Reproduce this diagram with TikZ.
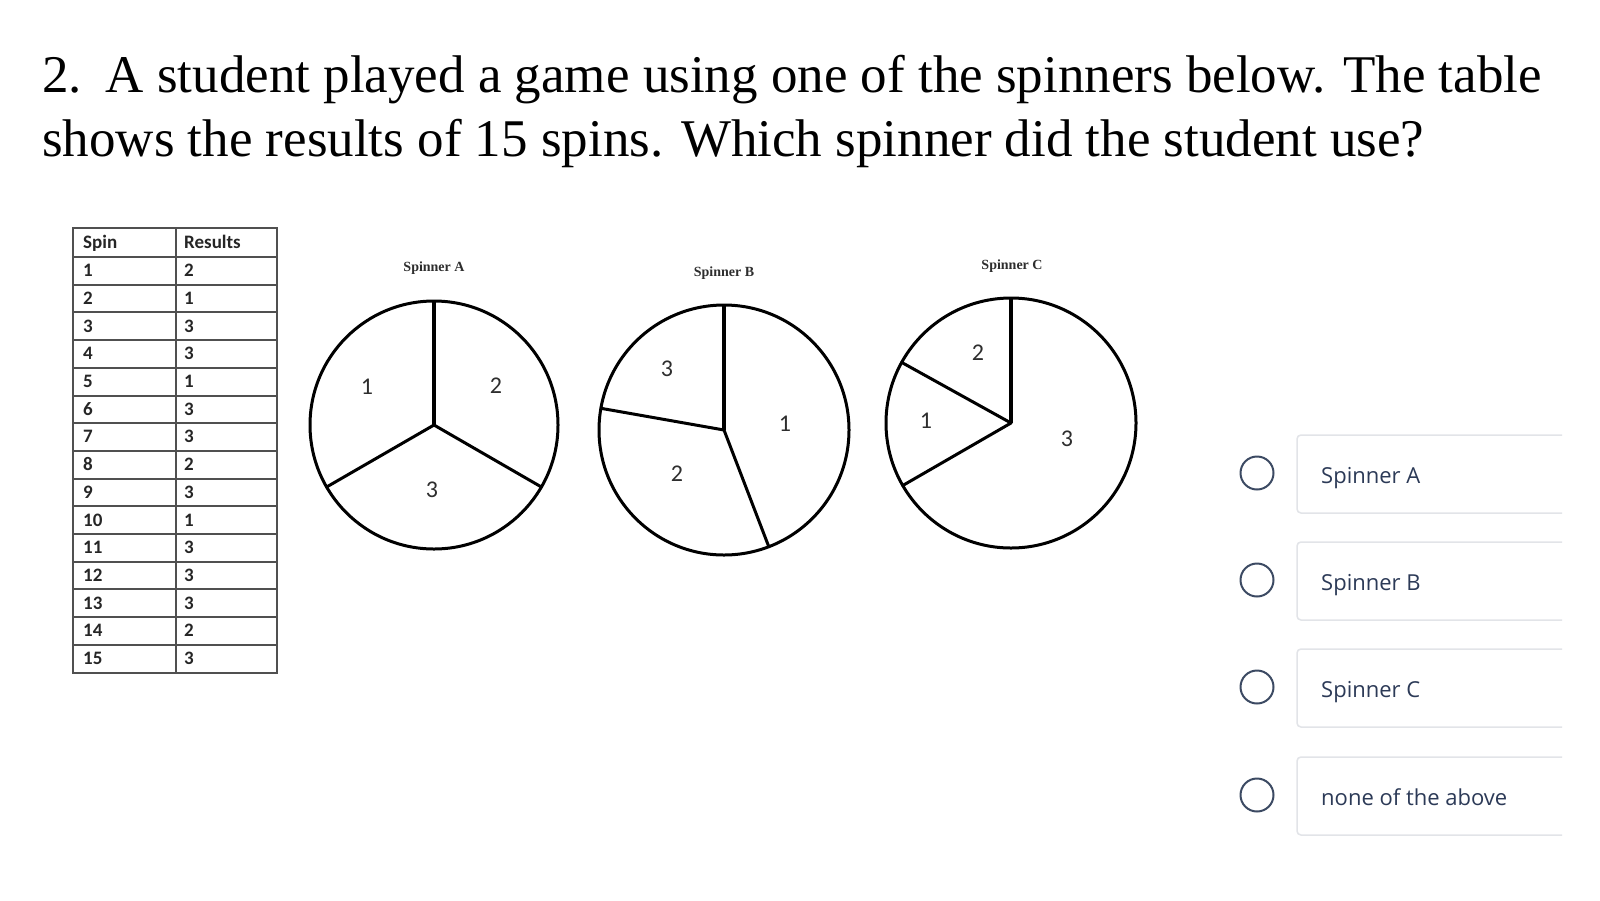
\documentclass[tikz,border=0pt]{standalone}
\usepackage{fontspec}
\setmainfont{Liberation Serif}
\newfontfamily\carlito{Carlito}
\newfontfamily\opensans{Open Sans}
\definecolor{navy}{HTML}{2C3A57}
\definecolor{radiocol}{HTML}{3C4A63}
\definecolor{boxline}{HTML}{E2E4E8}
\definecolor{tblline}{HTML}{505050}
\definecolor{lbl}{HTML}{2E2E2E}
\tikzset{
  titletext/.style={inner sep=0pt, anchor=base west, font=\fontsize{53}{60}\selectfont},
  cell/.style={inner sep=0pt, anchor=base west, text=black!85, font=\carlito\bfseries\fontsize{19}{22}\selectfont},
  tbl/.style={draw=tblline, line width=2pt},
  spin/.style={draw=black, line width=3pt, line cap=round},
  spinv/.style={draw=black, line width=3.6pt},
  spinlbl/.style={inner sep=0pt, text=lbl, font=\carlito\fontsize{24}{28}\selectfont},
  spintitle/.style={inner sep=0pt, text=lbl, font=\bfseries\fontsize{14}{16}\selectfont},
  radiobtn/.style={circle, draw=radiocol, line width=2pt, minimum size=33pt, inner sep=0pt},
  optbox/.style={draw=boxline, line width=1.5pt, rounded corners=4pt},
  opttext/.style={inner sep=0pt, anchor=base west, text=navy, font=\opensans\fontsize{22}{26}\selectfont}
}
\begin{document}
\begin{tikzpicture}[x=1pt,y=-1pt]
\useasboundingbox[fill=white] (0,0) rectangle (1600,900);

% title
\node[titletext] (t1) at (42,92) {2.\hspace{0.45em}A student played a game using one of the spinners below. The table};
\node[titletext] (t2) at (42,156) {shows the results of 15 spins. Which spinner did the student use?};

% table
\draw[tbl] (73,228) rectangle (277,672.5);
\draw[tbl] (176,228) -- (176,672.5);
\draw[tbl] (73,257) -- (277,257);
\foreach \k in {1,...,14} {
  \draw[tbl] (73,{257+27.7*\k}) -- (277,{257+27.7*\k});
}
\node[cell] (hs) at (83,248) {Spin};
\node[cell] (hr) at (184,248) {Results};
\foreach \i/\r in {1/2,2/1,3/3,4/3,5/1,6/3,7/3,8/2,9/3,10/1,11/3,12/3,13/3,14/2,15/3} {
  \node[cell] (s\i) at (83,{257+27.7*\i-8}) {\i};
  \node[cell] (r\i) at (184,{257+27.7*\i-8}) {\r};
}

% spinner A
\coordinate (cA) at (434,425);
\node[spintitle] (tA) at (434,268) {Spinner A};
\draw[spin] (cA) circle[radius=124];
\draw[spinv] (cA) -- ++(-90:124);
\draw[spin] (cA) -- ++(-210:124);
\draw[spin] (cA) -- ++(-330:124);
\node[spinlbl] (a1) at (367,387) {1};
\node[spinlbl] (a2) at (496,386) {2};
\node[spinlbl] (a3) at (432,490) {3};

% spinner B
\coordinate (cB) at (724,430);
\node[spintitle] (tB) at (724,273) {Spinner B};
\draw[spin] (cB) circle[radius=125];
\draw[spinv] (cB) -- ++(-90:125);
\draw[spin] (cB) -- ++(-170:125);
\draw[spin] (cB) -- ++(-291:125);
\node[spinlbl] (b3) at (667,369) {3};
\node[spinlbl] (b1) at (785,424) {1};
\node[spinlbl] (b2) at (677,474) {2};

% spinner C
\coordinate (cC) at (1011,423);
\node[spintitle] (tC) at (1012,266) {Spinner C};
\draw[spin] (cC) circle[radius=125];
\draw[spinv] (cC) -- ++(-90:125);
\draw[spin] (cC) -- ++(-151:125);
\draw[spin] (cC) -- ++(-210:125);
\node[spinlbl] (c2) at (978,353) {2};
\node[spinlbl] (c1) at (926,421) {1};
\node[spinlbl] (c3) at (1067,439) {3};

% options
\foreach \j/\y/\txt in {1/473/Spinner A,2/580/Spinner B,3/687/Spinner C,4/795/none of the above} {
  \node[radiobtn] (o\j) at (1257,\y) {};
  \draw[optbox] (1562,{\y-38}) -- (1297,{\y-38}) -- (1297,{\y+40}) -- (1562,{\y+40});
  \node[opttext] (x\j) at (1321,{\y+10}) {\txt};
}
\end{tikzpicture}
\end{document}
